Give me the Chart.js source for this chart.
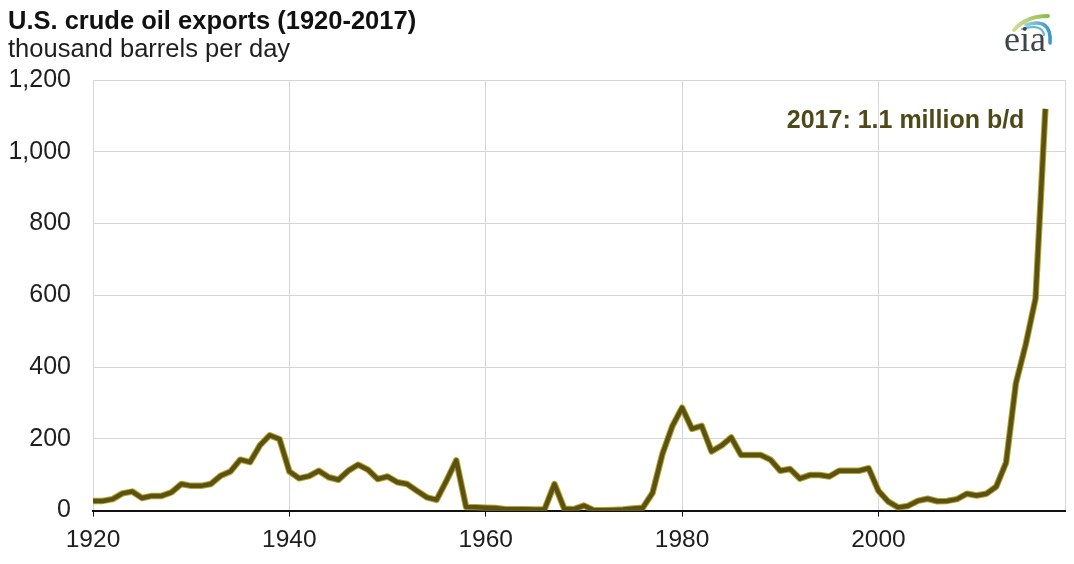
<!DOCTYPE html>
<html><head><meta charset="utf-8">
<script src="https://cdn.jsdelivr.net/npm/chart.js@4.4.1/dist/chart.umd.min.js"></script>
<style>html,body{margin:0;padding:0;background:#fff;}#wrap{width:1074px;height:564px;position:relative;}</style>
</head><body><div id="wrap"><canvas id="c"></canvas></div>
<script>
const titleText = 'U.S. crude oil exports (1920-2017)';
const subtitleText = 'thousand barrels per day';
const annotationText = '2017: 1.1 million b/d';
const years = [1920,1921,1922,1923,1924,1925,1926,1927,1928,1929,
  1930,1931,1932,1933,1934,1935,1936,1937,1938,1939,
  1940,1941,1942,1943,1944,1945,1946,1947,1948,1949,
  1950,1951,1952,1953,1954,1955,1956,1957,1958,1959,
  1960,1961,1962,1963,1964,1965,1966,1967,1968,1969,
  1970,1971,1972,1973,1974,1975,1976,1977,1978,1979,
  1980,1981,1982,1983,1984,1985,1986,1987,1988,1989,
  1990,1991,1992,1993,1994,1995,1996,1997,1998,1999,
  2000,2001,2002,2003,2004,2005,2006,2007,2008,2009,
  2010,2011,2012,2013,2014,2015,2016,2017];
const exportsKbd = [27,27,32,48,53,35,41,41,51,74,
  69,69,74,97,109,142,135,182,210,199,
  109,90,96,111,93,86,111,128,114,88,
  95,79,74,55,37,30,83,140,10,9,
  8,7,4,4,4,3,4,74,5,4,
  14,1,1,2,3,6,8,50,158,235,
  287,228,236,165,181,204,155,155,155,142,
  111,116,89,99,99,95,111,111,111,118,
  55,25,9,13,27,33,26,27,32,47,
  42,47,67,134,355,463,591,1120];
const xTickYears = [1920,1940,1960,1980,2000];
const xMin = 1920, xMax = 2019;
const yTicks = [0,200,400,600,800,1000,1200];

const points = years.map((yr,i)=>({x:yr,y:exportsKbd[i]}));
const FONT = "'Liberation Sans', Arial, sans-serif";

const annotationPlugin = {
  id:'annot',
  afterDatasetsDraw(chart){
    const meta = chart.getDatasetMeta(0);
    const last = meta.data[meta.data.length-1];
    const ctx = chart.ctx;
    ctx.save();
    ctx.font = "bold 25px " + FONT;
    ctx.fillStyle = '#4e4919';
    ctx.textAlign = 'right';
    ctx.textBaseline = 'middle';
    ctx.fillText(annotationText, last.x - 21, last.y + 12);
    ctx.restore();
  }
};

const logoPlugin = {
  id:'logo',
  afterDraw(chart){
    const ctx = chart.ctx;
    const bx = chart.width - 70;
    ctx.save();
    ctx.lineCap = 'round';
    let g1 = ctx.createLinearGradient(bx+8,0,bx+42,0);
    g1.addColorStop(0,'#d9dc9a'); g1.addColorStop(1,'#8fbf4a');
    ctx.strokeStyle = g1; ctx.lineWidth = 4;
    ctx.beginPath(); ctx.moveTo(bx+10,30); ctx.quadraticCurveTo(bx+22,16,bx+44,16); ctx.stroke();
    let g2 = ctx.createLinearGradient(bx+20,0,bx+50,0);
    g2.addColorStop(0,'#9fd3e0'); g2.addColorStop(1,'#2a8fc4');
    ctx.strokeStyle = g2; ctx.lineWidth = 3.5;
    ctx.beginPath(); ctx.moveTo(bx+22,25); ctx.quadraticCurveTo(bx+48,17,bx+46,43); ctx.stroke();
    ctx.strokeStyle = '#5fb7cf'; ctx.lineWidth = 2;
    ctx.beginPath(); ctx.moveTo(bx+18,29); ctx.quadraticCurveTo(bx+38,23,bx+40,35); ctx.stroke();
    ctx.font = "36px 'Liberation Serif', 'DejaVu Serif', serif";
    ctx.fillStyle = '#3c444c';
    ctx.textAlign = 'left'; ctx.textBaseline = 'alphabetic';
    ctx.fillText('eia', bx, 51);
    ctx.restore();
  }
};

new Chart(document.getElementById('c'), {
  type:'line',
  data:{datasets:[
    {data:points, borderColor:'#5a5214', borderWidth:4.5, pointRadius:0, tension:0, borderJoinStyle:'round', borderCapStyle:'butt', order:0},
    {data:points, borderColor:'#b9a42a', borderWidth:6.5, pointRadius:0, tension:0, borderJoinStyle:'round', borderCapStyle:'butt', order:1}
  ]},
  options:{
    responsive:true, maintainAspectRatio:false, animation:false,
    layout:{padding:{left:8,right:8,top:0,bottom:0}},
    plugins:{
      legend:{display:false}, tooltip:{enabled:false},
      title:{display:true, text:titleText, align:'start', color:'#111',
        font:{family:FONT, size:25.5, weight:'bold', lineHeight:1.1}, padding:{top:8,bottom:0}},
      subtitle:{display:true, text:subtitleText, align:'start', color:'#1e1e1e',
        font:{family:FONT, size:25.5, weight:'normal', lineHeight:1.1}, padding:{top:0,bottom:16}}
    },
    scales:{
      x:{type:'linear', min:xMin, max:xMax,
        afterBuildTicks(s){ s.ticks = xTickYears.concat([xMax]).map(v=>({value:v})); },
        ticks:{color:'#1e1e1e', font:{family:FONT,size:24.5}, padding:9, maxRotation:0, autoSkip:false,
          callback:(v)=> xTickYears.includes(v) ? String(v) : ''},
        grid:{color:'#d6d6d6', lineWidth:1, tickLength:6,
          tickColor:(c)=> (c.tick && xTickYears.includes(c.tick.value)) ? '#111' : 'rgba(0,0,0,0)'},
        border:{display:true, color:'#111', width:2}
      },
      y:{min:0, max:1200,
        afterBuildTicks(s){ s.ticks = yTicks.map(v=>({value:v})); },
        afterFit(s){ s.width = 85; },
        ticks:{color:'#1e1e1e', font:{family:FONT,size:25}, padding:22,
          callback:(v)=> v.toLocaleString('en-US')},
        grid:{color:(c)=> (c.tick && c.tick.value===0) ? 'rgba(0,0,0,0)' : '#d6d6d6', lineWidth:1, drawTicks:false},
        border:{display:false}
      }
    }
  },
  plugins:[annotationPlugin, logoPlugin]
});
</script></body></html>
